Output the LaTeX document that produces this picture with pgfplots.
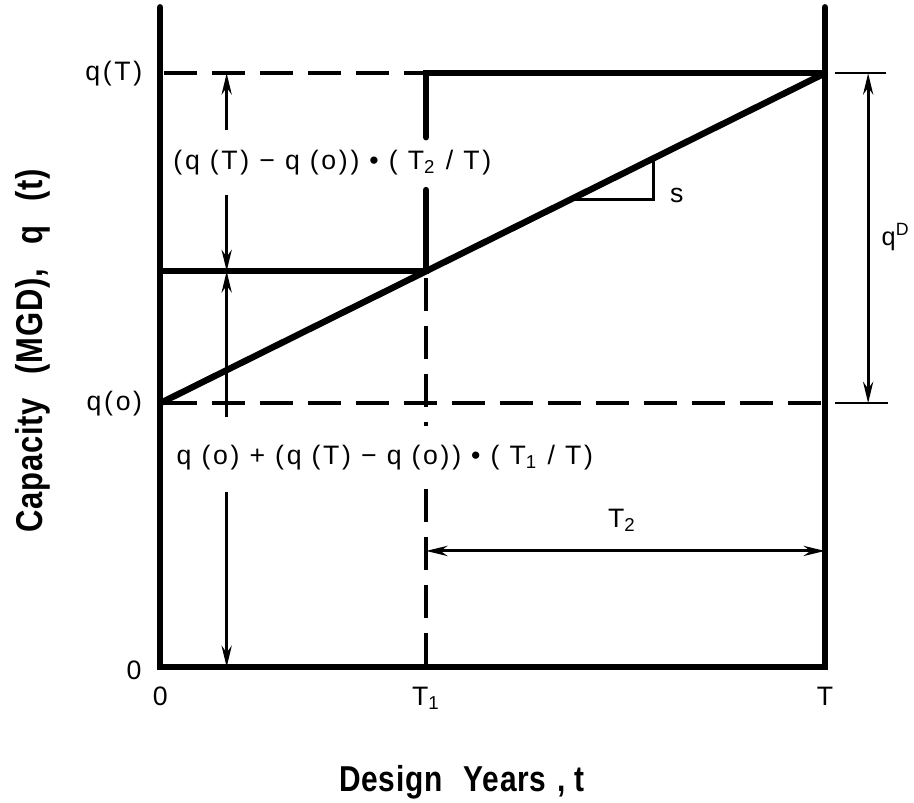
\documentclass[border=0pt]{standalone}
\usepackage{fontspec}
\setmainfont{Liberation Sans}[LetterSpace=10]
\newfontfamily\plainfont{Liberation Sans}
\newfontfamily\titlefont{Liberation Sans}[FakeStretch=0.83, LetterSpace=2]
\usepackage{pgfplots}
\pgfplotsset{compat=1.18}
\usetikzlibrary{arrows.meta}
\begin{document}
\begin{tikzpicture}
\begin{axis}[scale only axis, width=342.75pt, height=301.125pt,
  xmin=-2.41, xmax=11.34, ymin=-2.06, ymax=10.11,
  axis lines=none, clip=false,
  thk/.style={black, line width=2.4pt, line cap=round},
  dsh/.style={black, line width=1.4pt, dash pattern=on 12.5pt off 5.5pt},
  arr/.style={black, line width=1.1pt, -{Stealth[length=8pt,width=3.8pt]}},
  dbl/.style={black, line width=1.1pt, {Stealth[length=8pt,width=3.8pt]}-{Stealth[length=8pt,width=3.8pt]}},
  thin/.style={black, line width=0.9pt},
  every node/.style={font=\fontsize{9}{11}\selectfont, inner sep=0.5pt}]
\coordinate (BL) at (axis cs:-2.41,-2.06);
\coordinate (TR) at (axis cs:11.34,10.11);
% frame
\addplot[thk] coordinates {(0,10) (0,0) (10,0) (10,10)};
% dashed reference levels
\addplot[dsh] coordinates {(0.05,9) (3.95,9)};
\addplot[dsh] coordinates {(0.05,4) (9.95,4)};
% step capacity
\addplot[thk] coordinates {(0,6) (4,6) (4,7.23)};
\addplot[thk] coordinates {(4,8.03) (4,9) (10,9)};
% dashed T1 line
\addplot[dsh] coordinates {(4,5.9) (4,3.65)};
\addplot[dsh] coordinates {(4,2.7) (4,0.05)};
% demand line
\addplot[thk] coordinates {(0,4) (10,9)};
% slope triangle
\addplot[black, line width=1pt] coordinates {(6.18,7.09) (7.42,7.09) (7.42,7.71)};
\node at (axis cs:7.77,7.15) {s};
% dimension arrows left
\addplot[arr] coordinates {(1,8.14) (1,9)};
\addplot[arr] coordinates {(1,7.15) (1,6)};
\addplot[arr] coordinates {(1,3.79) (1,6)};
\addplot[arr] coordinates {(1,2.65) (1,0)};
\node at (axis cs:2.59,7.64) {(q (T) − q (o)) • ( T\textsubscript{2} / T)};
\node at (axis cs:3.38,3.18) {q (o) + (q (T) − q (o)) • ( T\textsubscript{1} / T)};
% T2 arrow
\addplot[dbl] coordinates {(4,1.76) (10,1.76)};
\node at (axis cs:6.95,2.22) {T\textsubscript{2}};
% qD dimension
\addplot[thin] coordinates {(10.15,9) (10.92,9)};
\addplot[thin] coordinates {(10.15,4) (10.95,4)};
\addplot[dbl] coordinates {(10.65,4) (10.65,9)};
\node[anchor=east, font=\fontsize{9.5}{11}\plainfont] at (axis cs:11.42,6.52) {q\textsuperscript{D}};
% tick labels
\node[anchor=east] at (axis cs:-0.13,9) {q(T)};
\node[anchor=east] at (axis cs:-0.13,4) {q(o)};
\node[anchor=east] at (axis cs:-0.14,-0.05) {0};
\node[anchor=base] at (axis cs:0,-0.576) {0};
\node[anchor=base] at (axis cs:4,-0.576) {T\textsubscript{1}};
\node[anchor=base] at (axis cs:10,-0.576) {T};
% axis titles
\node[anchor=base, font=\fontsize{13.5}{15}\titlefont\bfseries] at (axis cs:4.54,-1.89) {Design\hspace{8pt}Years\hspace{4pt},\hspace{3.5pt}t};
\node[anchor=base, rotate=90, font=\fontsize{14}{16}\titlefont\bfseries] at (axis cs:-1.77,4.79) {Capacity\hspace{9pt}(MGD),\hspace{9pt}q\hspace{9pt}(t)};
\end{axis}
\pgfresetboundingbox
\path (BL) rectangle (TR);
\end{tikzpicture}
\end{document}
